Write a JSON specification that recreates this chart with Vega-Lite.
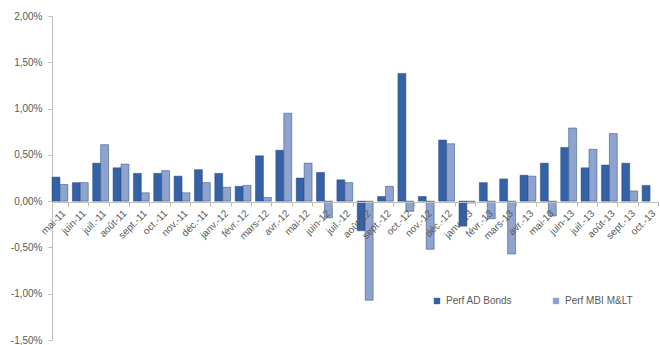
{
  "$schema": "https://vega.github.io/schema/vega-lite/v6.json",
  "width": 606,
  "height": 324,
  "autosize": {"type": "none"},
  "padding": {"left": 52, "top": 16, "right": 2, "bottom": 5},
  "background": "white",
  "config": {
    "locale": {"number": {"decimal": ",", "thousands": " ", "grouping": [3], "currency": ["", " €"], "minus": "-"}},
    "view": {"stroke": null},
    "font": "Liberation Sans"
  },
  "data": {
    "values": [
      {"m": "mai-11", "s": "Perf AD Bonds", "v": 0.0026}, {"m": "mai-11", "s": "Perf MBI M&LT", "v": 0.0018},
      {"m": "juin-11", "s": "Perf AD Bonds", "v": 0.0020}, {"m": "juin-11", "s": "Perf MBI M&LT", "v": 0.0020},
      {"m": "juil.-11", "s": "Perf AD Bonds", "v": 0.0041}, {"m": "juil.-11", "s": "Perf MBI M&LT", "v": 0.0061},
      {"m": "août-11", "s": "Perf AD Bonds", "v": 0.0036}, {"m": "août-11", "s": "Perf MBI M&LT", "v": 0.0040},
      {"m": "sept.-11", "s": "Perf AD Bonds", "v": 0.0030}, {"m": "sept.-11", "s": "Perf MBI M&LT", "v": 0.0009},
      {"m": "oct.-11", "s": "Perf AD Bonds", "v": 0.0030}, {"m": "oct.-11", "s": "Perf MBI M&LT", "v": 0.0033},
      {"m": "nov.-11", "s": "Perf AD Bonds", "v": 0.0027}, {"m": "nov.-11", "s": "Perf MBI M&LT", "v": 0.0009},
      {"m": "déc.-11", "s": "Perf AD Bonds", "v": 0.0034}, {"m": "déc.-11", "s": "Perf MBI M&LT", "v": 0.0020},
      {"m": "janv.-12", "s": "Perf AD Bonds", "v": 0.0030}, {"m": "janv.-12", "s": "Perf MBI M&LT", "v": 0.0015},
      {"m": "févr.-12", "s": "Perf AD Bonds", "v": 0.0016}, {"m": "févr.-12", "s": "Perf MBI M&LT", "v": 0.0017},
      {"m": "mars-12", "s": "Perf AD Bonds", "v": 0.0049}, {"m": "mars-12", "s": "Perf MBI M&LT", "v": 0.0004},
      {"m": "avr.-12", "s": "Perf AD Bonds", "v": 0.0055}, {"m": "avr.-12", "s": "Perf MBI M&LT", "v": 0.0095},
      {"m": "mai-12", "s": "Perf AD Bonds", "v": 0.0025}, {"m": "mai-12", "s": "Perf MBI M&LT", "v": 0.0041},
      {"m": "juin-12", "s": "Perf AD Bonds", "v": 0.0031}, {"m": "juin-12", "s": "Perf MBI M&LT", "v": -0.0018},
      {"m": "juil.-12", "s": "Perf AD Bonds", "v": 0.0023}, {"m": "juil.-12", "s": "Perf MBI M&LT", "v": 0.0020},
      {"m": "août-12", "s": "Perf AD Bonds", "v": -0.0032}, {"m": "août-12", "s": "Perf MBI M&LT", "v": -0.0107},
      {"m": "sept.-12", "s": "Perf AD Bonds", "v": 0.0005}, {"m": "sept.-12", "s": "Perf MBI M&LT", "v": 0.0016},
      {"m": "oct.-12", "s": "Perf AD Bonds", "v": 0.0138}, {"m": "oct.-12", "s": "Perf MBI M&LT", "v": -0.0011},
      {"m": "nov.-12", "s": "Perf AD Bonds", "v": 0.0005}, {"m": "nov.-12", "s": "Perf MBI M&LT", "v": -0.0052},
      {"m": "déc.-12", "s": "Perf AD Bonds", "v": 0.0066}, {"m": "déc.-12", "s": "Perf MBI M&LT", "v": 0.0062},
      {"m": "janv.-13", "s": "Perf AD Bonds", "v": -0.0027}, {"m": "janv.-13", "s": "Perf MBI M&LT", "v": -0.0002},
      {"m": "févr.-13", "s": "Perf AD Bonds", "v": 0.0020}, {"m": "févr.-13", "s": "Perf MBI M&LT", "v": -0.0019},
      {"m": "mars-13", "s": "Perf AD Bonds", "v": 0.0024}, {"m": "mars-13", "s": "Perf MBI M&LT", "v": -0.0057},
      {"m": "avr.-13", "s": "Perf AD Bonds", "v": 0.0028}, {"m": "avr.-13", "s": "Perf MBI M&LT", "v": 0.0027},
      {"m": "mai-13", "s": "Perf AD Bonds", "v": 0.0041}, {"m": "mai-13", "s": "Perf MBI M&LT", "v": -0.0016},
      {"m": "juin-13", "s": "Perf AD Bonds", "v": 0.0058}, {"m": "juin-13", "s": "Perf MBI M&LT", "v": 0.0079},
      {"m": "juil.-13", "s": "Perf AD Bonds", "v": 0.0036}, {"m": "juil.-13", "s": "Perf MBI M&LT", "v": 0.0056},
      {"m": "août-13", "s": "Perf AD Bonds", "v": 0.0039}, {"m": "août-13", "s": "Perf MBI M&LT", "v": 0.0073},
      {"m": "sept.-13", "s": "Perf AD Bonds", "v": 0.0041}, {"m": "sept.-13", "s": "Perf MBI M&LT", "v": 0.0011},
      {"m": "oct.-13", "s": "Perf AD Bonds", "v": 0.0017}
    ]
  },
  "mark": {"type": "bar", "stroke": "#24497f", "strokeWidth": 0.5},
  "encoding": {
    "x": {
      "field": "m", "type": "nominal", "sort": null, "title": null,
      "scale": {"paddingInner": 0.22, "paddingOuter": 0},
      "axis": {
        "offset": -138, "labelAngle": -45, "labelFontSize": 10, "labelColor": "#595959",
        "domainColor": "#bfbfbf", "tickColor": "#c8b8a0", "tickSize": 4, "tickBand": "extent",
        "labelPadding": 2, "zindex": 1
      }
    },
    "xOffset": {"field": "s", "type": "nominal"},
    "y": {
      "field": "v", "type": "quantitative", "title": null,
      "scale": {"domain": [-0.015, 0.02], "nice": false},
      "axis": {
        "values": [-0.015, -0.01, -0.005, 0, 0.005, 0.01, 0.015, 0.02],
        "format": ".2%", "grid": false, "labelFontSize": 10, "labelColor": "#595959",
        "domainColor": "#bfbfbf", "tickColor": "#bfbfbf", "tickSize": 4, "labelPadding": 6
      }
    },
    "color": {
      "field": "s", "type": "nominal", "title": null,
      "scale": {"domain": ["Perf AD Bonds", "Perf MBI M&LT"], "range": ["#3561a6", "#8fa3cf"]},
      "legend": {
        "orient": "none", "legendX": 380, "legendY": 280, "direction": "horizontal",
        "symbolType": "square", "symbolSize": 40, "labelFontSize": 10, "labelColor": "#595959",
        "columnPadding": 38, "symbolStrokeWidth": 0
      }
    }
  }
}
